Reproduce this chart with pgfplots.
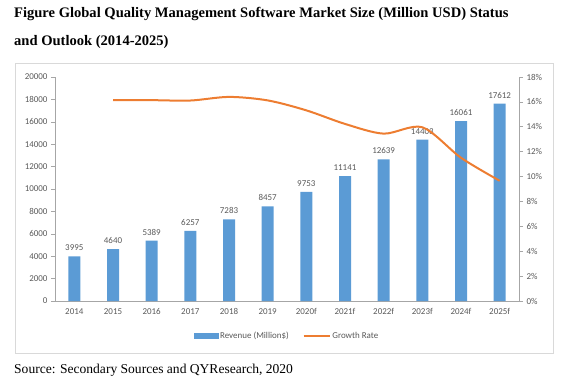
\documentclass[border=0pt]{standalone}
\usepackage{pgfplots}
\pgfplotsset{compat=1.18}
\usepackage{fontspec}
\setmainfont{Liberation Serif}
\setsansfont{Carlito}
\definecolor{barblue}{HTML}{5B9BD5}
\definecolor{lineorange}{HTML}{ED7D31}
\definecolor{ticklab}{HTML}{595959}
\definecolor{axgray}{HTML}{A6A6A6}
\definecolor{bordergray}{HTML}{D9D9D9}
\begin{document}
\begin{tikzpicture}
\path[use as bounding box] (0,0) rectangle (565bp,-385bp);
\draw[bordergray, line width=0.8bp] (15bp,-63bp) rectangle (553bp,-353bp);
\node[anchor=west, inner sep=0pt] at (14bp,-14bp) {\fontsize{14.6}{16}\selectfont\bfseries Figure Global Quality Management Software Market Size (Million USD) Status};
\node[anchor=west, inner sep=0pt] at (14bp,-42bp) {\fontsize{14.6}{16}\selectfont\bfseries and Outlook (2014-2025)};
\node[anchor=west, inner sep=0pt] at (14bp,-370bp) {\fontsize{13.6}{16}\selectfont Source: Secondary Sources and QYResearch, 2020};
\begin{axis}[
  at={(55bp,-301bp)}, anchor=south west,
  width=464bp, height=224bp, scale only axis,
  xmin=-0.5, xmax=11.5, ymin=0, ymax=20000,
  xtick=data,
  xticklabels={2014,2015,2016,2017,2018,2019,2020f,2021f,2022f,2023f,2024f,2025f},
  ytick={0,2000,...,20000},
  scaled y ticks=false,
  axis x line*=bottom, axis y line*=left,
  axis line style={axgray, line width=0.6bp},
  x axis line style={-}, y axis line style={-},
  xtick style={draw=none},
  ytick style={axgray, line width=0.6bp},
  tick align=outside, major tick length=4bp,
  /pgf/number format/assume math mode=true,
  /pgf/number format/set thousands separator={},
  ticklabel style={font=\sffamily\fontsize{9}{10}\selectfont, text=ticklab},
  ybar, bar width=12bp,
  nodes near coords,
  every node near coord/.append style={font=\sffamily\fontsize{9}{10}\selectfont, text=ticklab, /pgf/number format/assume math mode=true, /pgf/number format/set thousands separator={}, yshift=2bp},
]
\addplot[fill=barblue, draw=none] coordinates {
(0,3995) (1,4640) (2,5389) (3,6257) (4,7283) (5,8457) (6,9753) (7,11141) (8,12639) (9,14403) (10,16061) (11,17612)};
\end{axis}
\begin{axis}[
  at={(55bp,-301bp)}, anchor=south west,
  width=464bp, height=224bp, scale only axis,
  xmin=-0.5, xmax=11.5, ymin=0, ymax=18,
  ytick={0,2,...,18},
  yticklabel={\pgfmathprintnumber{\tick}\%},
  axis x line=none, axis y line*=right,
  axis line style={axgray, line width=0.6bp},
  y axis line style={-},
  ytick style={axgray, line width=0.6bp},
  tick align=outside, major tick length=4bp,
  /pgf/number format/assume math mode=true,
  ticklabel style={font=\sffamily\fontsize{9}{10}\selectfont, text=ticklab},
  legend style={at={(0.5,-0.156)}, anchor=center, draw=none, fill=none,
    font=\sffamily\fontsize{9}{10}\selectfont, text=ticklab,
    legend columns=2, /tikz/every even column/.append style={column sep=12bp}},
]
\addlegendimage{legend image code/.code={\fill[barblue] (0bp,-2.5bp) rectangle (24bp,2.5bp);}}
\addlegendentry{Revenue (Million\$)}
\addlegendimage{legend image code/.code={\draw[lineorange, line width=1.5bp] (0bp,0bp) -- (26bp,0bp);}}
\addlegendentry{Growth Rate}
\addplot[lineorange, line width=2bp, smooth, tension=0.5, mark=none] coordinates {
(1,16.15) (2,16.14) (3,16.11) (4,16.40) (5,16.12) (6,15.32) (7,14.23) (8,13.45) (9,13.96) (10,11.51) (11,9.66)};
\end{axis}
\end{tikzpicture}
\end{document}
